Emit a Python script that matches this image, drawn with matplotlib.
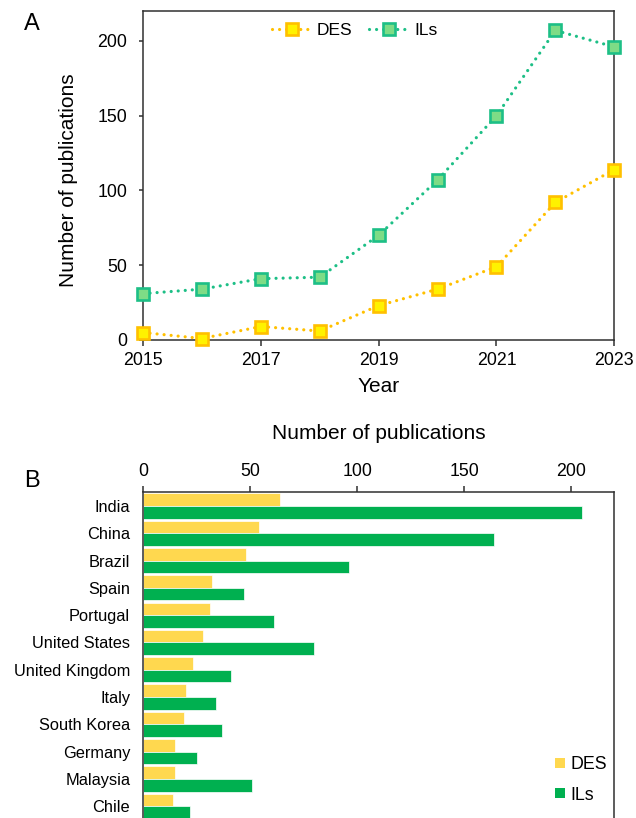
import matplotlib
matplotlib.use("Agg")
import matplotlib.pyplot as plt
from matplotlib.lines import Line2D

plt.rcParams['font.family'] = ['Liberation Sans', 'DejaVu Sans']

# ---- data -------------------------------------------------------------
years = [2015, 2016, 2017, 2018, 2019, 2020, 2021, 2022, 2023]
des_by_year = [5, 1, 9, 6, 23, 34, 49, 92, 114]
ils_by_year = [31, 34, 41, 42, 70, 107, 150, 207, 196]

countries = ["India", "China", "Brazil", "Spain", "Portugal", "United States",
             "United Kingdom", "Italy", "South Korea", "Germany", "Malaysia", "Chile"]
des_by_country = [64, 54, 48, 32, 31, 28, 23, 20, 19, 15, 15, 14]
ils_by_country = [205, 164, 96, 47, 61, 80, 41, 34, 37, 25, 51, 22]

# ---- styling ----------------------------------------------------------
W, H = 636, 818
SPINE = "#303030"
DES_LINE, DES_FACE = "#FFC000", "#FFF200"
ILS_LINE, ILS_FACE = "#1DBF86", "#7EDC86"
DES_BAR, ILS_BAR = "#FFD84F", "#00B050"


def fx(x):
    return x / W


def fy(y):
    return 1 - y / H


fig = plt.figure(figsize=(W / 100, H / 100), dpi=100)

# ---- panel A: publications per year ----------------------------------
axA = fig.add_axes([fx(143), fy(340), fx(614.3) - fx(143), fy(11) - fy(340)])
dotted = (0, (0.01, 2.2))
axA.plot(years, des_by_year, color=DES_LINE, lw=2.3, linestyle=dotted,
         dash_capstyle='round', marker='s', ms=9.2, mew=1.9,
         mfc=DES_FACE, mec=DES_LINE, label="DES", clip_on=False, zorder=3)
axA.plot(years, ils_by_year, color=ILS_LINE, lw=2.3, linestyle=dotted,
         dash_capstyle='round', marker='s', ms=9.2, mew=1.9,
         mfc=ILS_FACE, mec=ILS_LINE, label="ILs", clip_on=False, zorder=3)
axA.set_xlim(2015, 2023)
axA.set_ylim(0, 220)
axA.set_xticks([2015, 2017, 2019, 2021, 2023])
axA.set_yticks([0, 50, 100, 150, 200])
axA.tick_params(axis='x', labelsize=12.8, length=4, width=1.1, color=SPINE, pad=4.5)
axA.tick_params(axis='y', labelsize=12.8, length=3, width=1.1, color=SPINE, pad=8.5)
for s in axA.spines.values():
    s.set_color(SPINE)
    s.set_linewidth(1.1)

axA.set_xlabel("Year", fontsize=15)
axA.xaxis.label.set_va('center')
axA.xaxis.set_label_coords(fx(378.7), fy(386.7), transform=fig.transFigure)
axA.set_ylabel("Number of publications", fontsize=15)
axA.yaxis.label.set_va('center')
axA.yaxis.set_label_coords(fx(68.4), fy(180), transform=fig.transFigure)

legA = axA.legend(ncol=2, loc='center left', frameon=False, fontsize=12.5,
                  bbox_to_anchor=(fx(271.7), fy(30)), bbox_transform=fig.transFigure,
                  borderpad=0, borderaxespad=0, handlelength=2.35,
                  handletextpad=0.25, columnspacing=0.95, markerscale=0.9)

fig.text(fx(31.8), fy(24.2), "A", fontsize=17, ha='center', va='center')

# ---- panel B: publications per country -------------------------------
unit = 27.3
axB = fig.add_axes([fx(143.3), fy(492.3 + 13 * unit), fx(614) - fx(143.3), 13 * unit / H])
pos = list(range(len(countries)))
bh = 0.46
axB.barh([p - bh / 2 for p in pos], des_by_country, height=bh, color=DES_BAR,
         edgecolor='white', linewidth=0.5, label="DES")
axB.barh([p + bh / 2 for p in pos], ils_by_country, height=bh, color=ILS_BAR,
         edgecolor='white', linewidth=0.5, label="ILs")
axB.set_xlim(0, 220)
axB.set_ylim(12.5, -0.5)
axB.set_yticks(pos)
axB.set_yticklabels(countries)
axB.xaxis.tick_top()
axB.xaxis.set_label_position('top')
axB.set_xticks([0, 50, 100, 150, 200])
axB.tick_params(axis='x', labelsize=12.8, length=4.5, width=1.1, color=SPINE, pad=4.2)
axB.tick_params(axis='y', labelsize=11.8, length=0, pad=9.4)
for s in axB.spines.values():
    s.set_color(SPINE)
    s.set_linewidth(1.1)

axB.set_xlabel("Number of publications", fontsize=15)
axB.xaxis.label.set_va('center')
axB.xaxis.set_label_coords(fx(378.7), fy(434), transform=fig.transFigure)

handlesB = [Line2D([], [], linestyle='none', marker='s', ms=7.6, mew=0, mfc=DES_BAR),
            Line2D([], [], linestyle='none', marker='s', ms=7.6, mew=0, mfc=ILS_BAR)]
axB.legend(handlesB, ["DES", "ILs"], loc='center left', frameon=False, fontsize=12.8,
           bbox_to_anchor=(fx(555), fy(780)), bbox_transform=fig.transFigure,
           borderpad=0, borderaxespad=0, handlelength=0.6, handletextpad=0.25,
           labelspacing=0.75)

fig.text(fx(32), fy(481.3), "B", fontsize=17, ha='center', va='center')

fig.savefig("out.png", dpi=100)
